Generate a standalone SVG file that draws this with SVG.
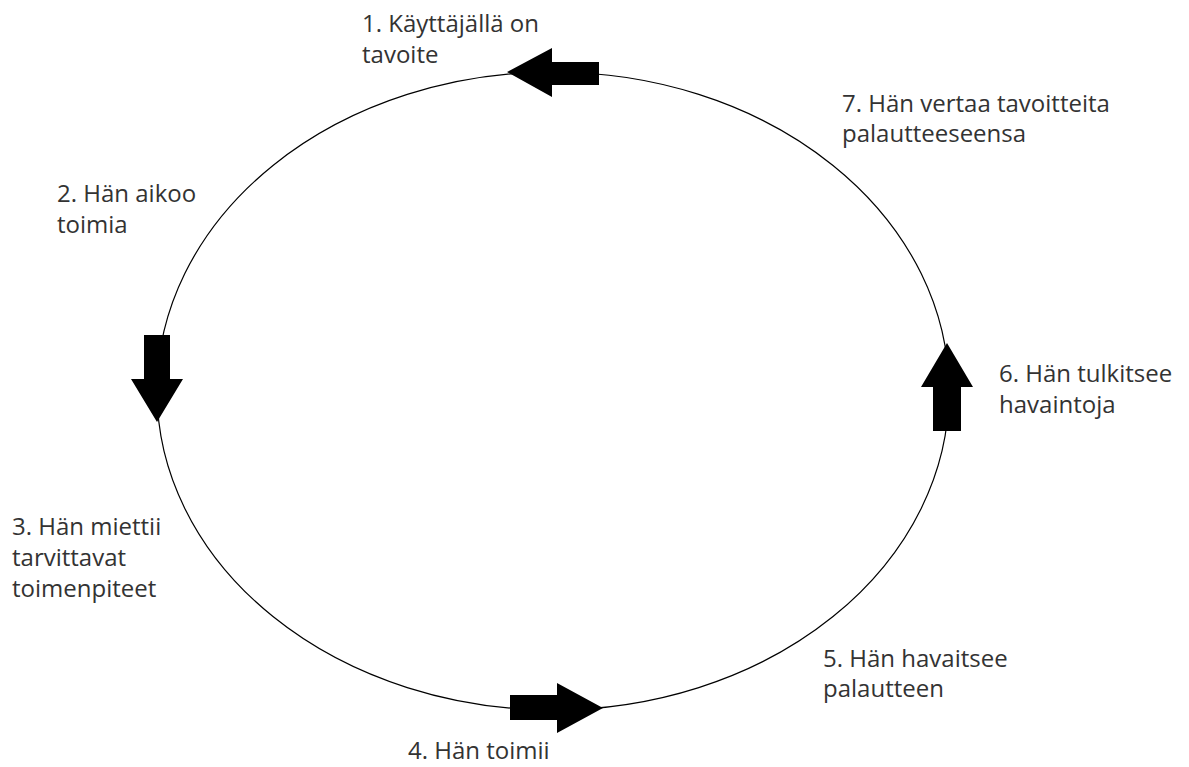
<svg xmlns="http://www.w3.org/2000/svg" width="1189" height="767" viewBox="0 0 1189 767">
<style>
.lbl{font-family:"Open Sans","Liberation Sans",sans-serif;font-size:24px;fill:#333333;}
.arr{fill:#000000;stroke:none;}
.cyc{fill:none;stroke:#000000;stroke-width:1.2;}
</style>
<rect width="1189" height="767" fill="#ffffff"/>
<g id="connectors">
<ellipse class="cyc" cx="553" cy="391" rx="396" ry="319"/>
<polygon class="arr" points="507,72 552,48 552,62 599,62 599,85 552,85 552,97"/>
<polygon class="arr" points="144,335 170,335 170,379 183,379 157,422 131,379 144,379"/>
<polygon class="arr" points="510,695 557,695 557,683 603,708 557,733 557,720 510,720"/>
<polygon class="arr" points="947,343 973,387 961,387 961,431 933,431 933,387 921,387"/>
</g>
<g id="step1"><text class="lbl" x="362" y="32">1. Käyttäjällä on</text><text class="lbl" x="362" y="63">tavoite</text></g>
<g id="step2"><text class="lbl" x="57" y="202">2. Hän aikoo</text><text class="lbl" x="57" y="233">toimia</text></g>
<g id="step3"><text class="lbl" x="12" y="535">3. Hän miettii</text><text class="lbl" x="12" y="566">tarvittavat</text><text class="lbl" x="12" y="597">toimenpiteet</text></g>
<g id="step4"><text class="lbl" x="408" y="759">4. Hän toimii</text></g>
<g id="step5"><text class="lbl" x="823" y="667">5. Hän havaitsee</text><text class="lbl" x="823" y="697">palautteen</text></g>
<g id="step6"><text class="lbl" x="999" y="382">6. Hän tulkitsee</text><text class="lbl" x="999" y="413">havaintoja</text></g>
<g id="step7"><text class="lbl" x="842" y="112">7. Hän vertaa tavoitteita</text><text class="lbl" x="842" y="142">palautteeseensa</text></g>
</svg>
